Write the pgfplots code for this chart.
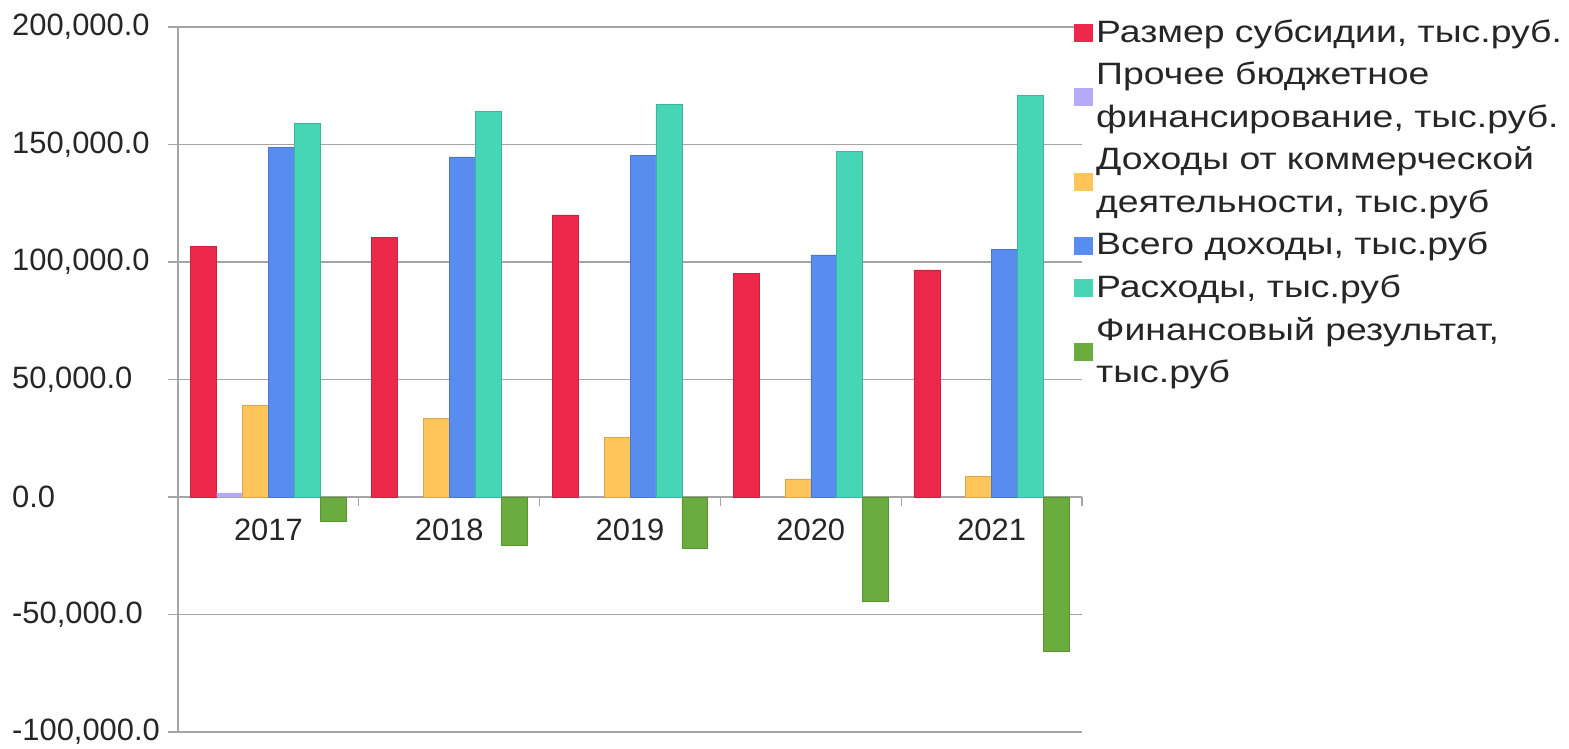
\documentclass[border=0pt]{standalone}
\usepackage{fontspec}
\setmainfont{Liberation Sans}
\newfontfamily\legfont[FakeStretch=1.21]{Liberation Sans}
\usepackage{pgfplots}
\pgfplotsset{compat=1.18}
\definecolor{cRed}{RGB}{238,40,75}
\definecolor{cLav}{RGB}{180,170,250}
\definecolor{cOra}{RGB}{255,196,90}
\definecolor{cBlu}{RGB}{88,140,238}
\definecolor{cTea}{RGB}{70,214,182}
\definecolor{cGre}{RGB}{106,172,62}
\definecolor{cGrid}{RGB}{165,165,165}
\newcommand{\ls}{\rule[-14bp]{0pt}{42bp}}
\pgfplotsset{sqleg/.style={legend image code/.code={\fill[##1, draw=none] (0bp,-7bp) rectangle (19bp,11bp);}}}
\begin{document}
\begin{tikzpicture}
\begin{axis}[
 scale only axis, width=904bp, height=705bp,
 xmin=-0.5, xmax=4.5, ymin=-100000, ymax=200000,
 ybar=0pt, bar width=25.9bp,
 axis x line*=middle, axis y line*=left,
 axis line style={cGrid, line width=1.2bp},
 xtick={0,1,2,3,4}, xticklabels={2017,2018,2019,2020,2021},
 minor xtick={0.5,1.5,2.5,3.5,4.5},
 major x tick style={draw=none},
 minor x tick style={cGrid, line width=1.2bp},
 minor tick length=9bp,
 ytick={-100000,-50000,0,50000,100000,150000,200000},
 major tick length=10bp, tick align=outside,
 ymajorgrids, grid style={cGrid, line width=1.2bp},
 major y tick style={cGrid, line width=1.2bp},
 scaled y ticks=false,
 yticklabel style={anchor=west, inner sep=0pt, xshift=-156bp, font=\fontsize{31}{31}\selectfont, text=black!85,
   /pgf/number format/fixed, /pgf/number format/fixed zerofill, /pgf/number format/precision=1,
   /pgf/number format/1000 sep={,}, /pgf/number format/assume math mode=true},
 xticklabel style={anchor=north, inner sep=0pt, yshift=-12bp, font=\fontsize{31}{31}\selectfont, text=black!85},
 legend style={draw=none, fill=none, at={(1,1)}, anchor=north west, xshift=-8bp, yshift=13bp,
   font=\legfont\fontsize{31}{42.6}\selectfont, inner sep=0pt, row sep=0.6bp, column sep=3bp,
   nodes={inner sep=0pt, text depth=}, cells={anchor=west, align=left}, text=black!85},
 legend cell align=left,
]
\addplot[sqleg, fill=cRed, draw=cRed!85!black, line width=0.6bp] coordinates {(0,106800) (1,110600) (2,120000) (3,95300) (4,96600)};
\addplot[sqleg, fill=cLav, draw=none] coordinates {(0,1800) (1,0) (2,0) (3,0) (4,0)};
\addplot[sqleg, fill=cOra, draw=cOra!85!black, line width=0.6bp] coordinates {(0,39100) (1,33600) (2,25500) (3,7700) (4,8900)};
\addplot[sqleg, fill=cBlu, draw=cBlu!85!black, line width=0.6bp] coordinates {(0,148900) (1,144700) (2,145500) (3,103000) (4,105500)};
\addplot[sqleg, fill=cTea, draw=cTea!85!black, line width=0.6bp] coordinates {(0,159100) (1,164200) (2,167200) (3,147200) (4,171000)};
\addplot[sqleg, fill=cGre, draw=cGre!85!black, line width=0.6bp] coordinates {(0,-10400) (1,-20400) (2,-21700) (3,-44500) (4,-65700)};
\legend{{\ls Размер субсидии, тыс.руб.},
 {\ls Прочее бюджетное\\\ls финансирование, тыс.руб.},
 {\ls Доходы от коммерческой\\\ls деятельности, тыс.руб},
 {\ls Всего доходы, тыс.руб},
 {\ls Расходы, тыс.руб},
 {\ls Финансовый результат,\\\ls тыс.руб}}
\end{axis}
\pgfresetboundingbox
\path[use as bounding box] (current axis.south west) ++(-178bp,-17bp) rectangle ++(1569bp,749bp);
\end{tikzpicture}
\end{document}
